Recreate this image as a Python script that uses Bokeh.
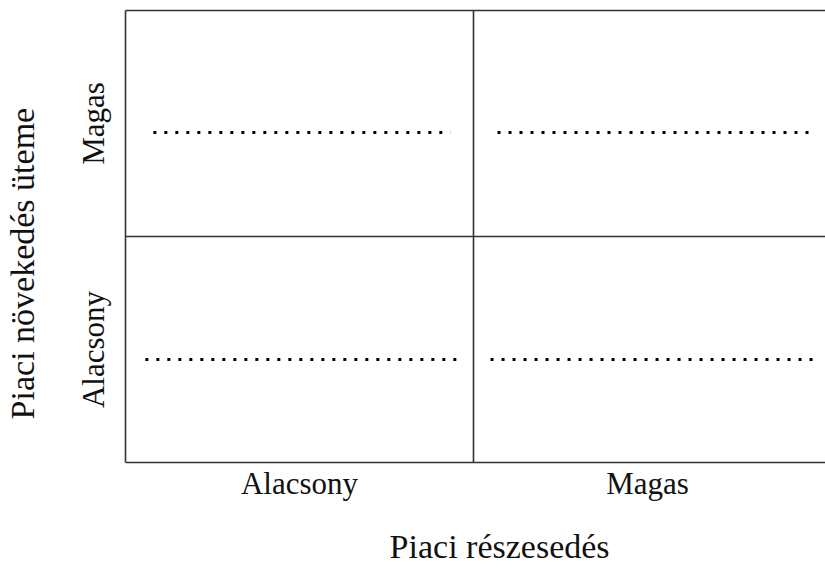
from bokeh.plotting import figure
from bokeh.models import Range1d, FixedTicker, LinearAxis
from bokeh.embed import file_html
from bokeh.resources import INLINE

# Categories (BCG matrix)
x_categories = ["Alacsony", "Magas"]          # Piaci részesedés
y_categories = ["Alacsony", "Magas"]          # Piaci növekedés üteme
x_title = "Piaci részesedés"
y_title = "Piaci növekedés üteme"

# Dotted placeholder lines, one per quadrant (data units)
dot_x0 = [0.08, 1.069, 0.057, 1.049]
dot_x1 = [0.934, 1.983, 0.954, 1.997]
dot_y = [1.46, 1.46, 0.456, 0.456]

# Quadrant dividers
div_pos = [1.0]

FONT = "Liberation Serif"
LINE = "#333333"

p = figure(width=825, height=568,
           x_range=Range1d(0, 2.0115), y_range=Range1d(0, 2),
           output_backend="svg", toolbar_location=None,
           x_axis_location=None, y_axis_location=None,
           min_border_left=125, min_border_right=0,
           min_border_top=10, min_border_bottom=106)
p.grid.visible = False
p.outline_line_color = None
p.background_fill_color = "white"
p.border_fill_color = "white"

def style_axis(ax, size="31px", line=True):
    ax.axis_line_color = LINE if line else None
    ax.axis_line_width = 1.6
    ax.major_tick_line_color = None
    ax.minor_tick_line_color = None
    ax.major_tick_out = 0
    ax.major_tick_in = 0
    ax.major_label_text_font = FONT
    ax.major_label_text_font_size = size
    ax.major_label_text_color = "#111111"

xb = LinearAxis(ticker=FixedTicker(ticks=[0.5, 1.5]),
                major_label_overrides=dict(zip([0.5, 1.5], x_categories)))
style_axis(xb)
xb.major_label_standoff = 3
p.add_layout(xb, "below")

yl = LinearAxis(ticker=FixedTicker(ticks=[0.5, 1.5]),
                major_label_overrides=dict(zip([0.5, 1.5], y_categories)),
                major_label_orientation="vertical")
style_axis(yl)
yl.major_label_standoff = 15
p.add_layout(yl, "left")

xt = LinearAxis(ticker=FixedTicker(ticks=[]))
style_axis(xt)
p.add_layout(xt, "above")

# axis titles, placed as a single label on an outer, line-less axis
x_title_pos = 1.075
y_title_pos = 0.88
xtitle_ax = LinearAxis(ticker=FixedTicker(ticks=[x_title_pos]),
                       major_label_overrides={x_title_pos: x_title})
style_axis(xtitle_ax, size="34px", line=False)
xtitle_ax.major_label_standoff = 24
p.add_layout(xtitle_ax, "below")

ytitle_ax = LinearAxis(ticker=FixedTicker(ticks=[y_title_pos]),
                       major_label_overrides={y_title_pos: y_title},
                       major_label_orientation="vertical")
style_axis(ytitle_ax, size="34px", line=False)
ytitle_ax.major_label_standoff = 31
p.add_layout(ytitle_ax, "left")

# dividers
p.segment(x0=[0.0], x1=[2.0115], y0=div_pos, y1=div_pos, line_color=LINE, line_width=1.6)
p.segment(x0=div_pos, x1=div_pos, y0=[0.0], y1=[2.0], line_color=LINE, line_width=1.6)

# dotted lines
p.segment(x0=dot_x0, x1=dot_x1, y0=dot_y, y1=dot_y,
          line_color="#000000", line_width=3, line_dash="3 8")

open("out.html", "w").write(file_html(p, INLINE))
